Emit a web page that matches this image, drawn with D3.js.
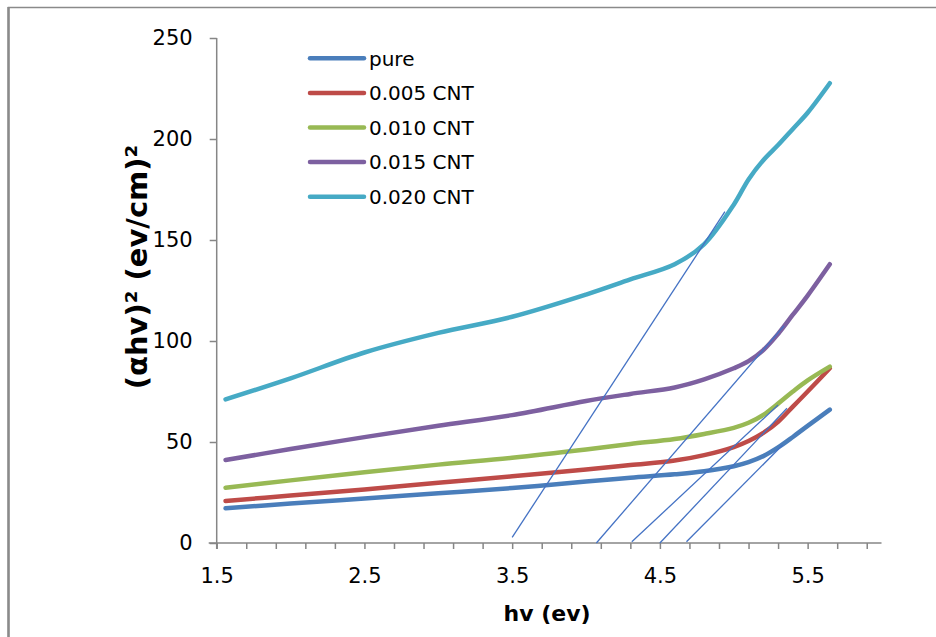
<!DOCTYPE html>
<html>
<head>
<meta charset="utf-8">
<script src="https://cdn.jsdelivr.net/npm/d3@7"></script>
<style>
  body { margin: 0; background: #fff; }
  text { font-family: "DejaVu Sans", sans-serif; fill: #000; }
</style>
</head>
<body>
<script>
    var width = 936,
        height = 637;

    // photon energy (eV) shared by every series
    var hv = [1.56, 2.0, 2.5, 3.0, 3.5, 4.0, 4.3, 4.6, 4.8, 5.0, 5.1, 5.2, 5.3, 5.4, 5.5, 5.65];

    var pure   = [17.2, 19.5, 22.0, 24.6, 27.2, 30.4, 32.3, 34.0, 35.5, 38.0, 40.0, 43.0, 47.3, 52.5, 58.0, 66.0];
    var cnt005 = [20.8, 23.5, 26.5, 29.8, 33.0, 36.4, 38.6, 40.8, 43.5, 47.5, 50.5, 54.5, 60.0, 67.5, 75.0, 86.5];
    var cnt010 = [27.4, 31.0, 35.0, 38.8, 42.2, 46.3, 49.0, 51.5, 54.0, 57.0, 59.5, 63.4, 69.0, 75.0, 80.5, 87.3];
    var cnt015 = [41.1, 46.5, 52.4, 58.0, 63.3, 70.3, 73.8, 77.0, 81.0, 86.5, 90.0, 95.5, 103.5, 113.0, 122.5, 138.0];
    var cnt020 = [71.1, 81.5, 94.3, 104.0, 112.0, 123.0, 130.5, 138.0, 148.0, 167.5, 180.0, 189.5, 197.0, 205.0, 213.0, 227.6];

    var seriesNames = ["pure", "0.005 CNT", "0.010 CNT", "0.015 CNT", "0.020 CNT"];
    var seriesColors = ["#4a7ebb", "#be4b48", "#98b954", "#7d60a0", "#46aac5"];

    // extrapolation lines drawn by hand on the chart
    var tanX1 = [3.50, 4.07, 4.31, 4.50, 4.68],
        tanY1 = [2.8, 0.0, 0.6, 0.0, 0.6],
        tanX2 = [4.94, 5.34, 5.30, 5.36, 5.33],
        tanY2 = [164.0, 107.5, 68.3, 66.7, 48.5];

    var xTicks = d3.range(0, 23).map(function (i) { return +(1.5 + i * 0.2).toFixed(1); });
    var xLabels = [1.5, 2.5, 3.5, 4.5, 5.5];
    var yTicks = [0, 50, 100, 150, 200, 250];

    var plotLeft = 216.7, plotRight = 881.5, plotTop = 38, plotBottom = 543;

    var x = d3.scaleLinear().domain([1.5, 6.0]).range([plotLeft, plotRight]);
    var y = d3.scaleLinear().domain([0, 250]).range([plotBottom, plotTop]);

    var svg = d3.select("body").append("svg")
        .attr("width", width)
        .attr("height", height);

    // chart border (cut off on the right and bottom in the original)
    svg.append("path")
        .attr("d", "M8.5," + height + "V7.5H" + width)
        .attr("fill", "none")
        .attr("stroke", "#8a8a8a")
        .attr("stroke-width", 1.5);
    svg.append("line")
        .attr("x1", 8.5).attr("x2", 8.5)
        .attr("y1", 7).attr("y2", height)
        .attr("stroke", "#8a8a8a")
        .attr("stroke-width", 2.5);

    // x axis
    var xAxis = d3.axisBottom(x)
        .tickValues(xTicks)
        .tickSize(6)
        .tickFormat(function (d) {
            return xLabels.indexOf(d) >= 0 ? d3.format(".1f")(d) : "";
        });
    var gx = svg.append("g")
        .attr("transform", "translate(0," + plotBottom + ")")
        .call(xAxis);
    gx.select(".domain").remove();
    gx.append("line")
        .attr("x1", plotLeft - 8).attr("x2", plotRight)
        .attr("stroke", "#868686").attr("stroke-width", 1.5);
    gx.selectAll(".tick line").attr("stroke", "#868686").attr("stroke-width", 1.5);
    gx.selectAll(".tick text")
        .attr("y", 25)
        .attr("dy", "0.71em")
        .style("font-size", "21px")
        .style("font-family", "DejaVu Sans, sans-serif")
        .attr("fill", "#000");

    // y axis
    var yAxis = d3.axisLeft(y)
        .tickValues(yTicks)
        .tickSize(7)
        .tickPadding(17);
    var gy = svg.append("g")
        .attr("transform", "translate(" + plotLeft + ",0)")
        .call(yAxis);
    gy.select(".domain").remove();
    gy.append("line")
        .attr("y1", plotTop).attr("y2", plotBottom + 6)
        .attr("stroke", "#868686").attr("stroke-width", 1.5);
    gy.selectAll(".tick line").attr("stroke", "#868686").attr("stroke-width", 1.5);
    gy.selectAll(".tick text")
        .style("font-size", "21px")
        .style("font-family", "DejaVu Sans, sans-serif")
        .attr("fill", "#000");

    // axis titles
    svg.append("text")
        .attr("x", (plotLeft + plotRight) / 2 - 2)
        .attr("y", 621)
        .attr("text-anchor", "middle")
        .style("font-size", "22px")
        .style("font-weight", "bold")
        .text("hv (ev)");

    svg.append("text")
        .attr("transform", "translate(147,267) rotate(-90)")
        .attr("text-anchor", "middle")
        .style("font-size", "29px")
        .style("font-weight", "bold")
        .text("(\u03b1hv)\u00b2 (ev/cm)\u00b2");

    // series
    var allSeries = [pure, cnt005, cnt010, cnt015, cnt020];
    var line = d3.line()
        .x(function (d) { return x(d[0]); })
        .y(function (d) { return y(d[1]); })
        .curve(d3.curveCatmullRom.alpha(0.5));

    svg.selectAll(".series")
        .data(allSeries)
        .enter()
        .append("path")
        .attr("class", "series")
        .attr("d", function (vals) {
            return line(vals.map(function (v, i) { return [hv[i], v]; }));
        })
        .attr("fill", "none")
        .attr("stroke", function (d, i) { return seriesColors[i]; })
        .attr("stroke-width", 4.5)
        .attr("stroke-linecap", "round")
        .attr("stroke-linejoin", "round");

    // tangent lines
    svg.selectAll(".tangent")
        .data(tanX1)
        .enter()
        .append("line")
        .attr("class", "tangent")
        .attr("x1", function (d, i) { return x(tanX1[i]); })
        .attr("y1", function (d, i) { return y(tanY1[i]); })
        .attr("x2", function (d, i) { return x(tanX2[i]); })
        .attr("y2", function (d, i) { return y(tanY2[i]); })
        .attr("stroke", "#4472c4")
        .attr("stroke-width", 1.3);

    // legend
    var legend = svg.selectAll(".legend")
        .data(seriesNames)
        .enter()
        .append("g")
        .attr("class", "legend")
        .attr("transform", function (d, i) { return "translate(310," + (58.3 + i * 34.6) + ")"; });

    legend.append("line")
        .attr("x1", 0).attr("x2", 54)
        .attr("stroke", function (d, i) { return seriesColors[i]; })
        .attr("stroke-width", 4.5)
        .attr("stroke-linecap", "round");

    legend.append("text")
        .attr("x", 59)
        .attr("dy", "0.36em")
        .style("font-size", "20px")
        .text(function (d) { return d; });
</script>
</body>
</html>
